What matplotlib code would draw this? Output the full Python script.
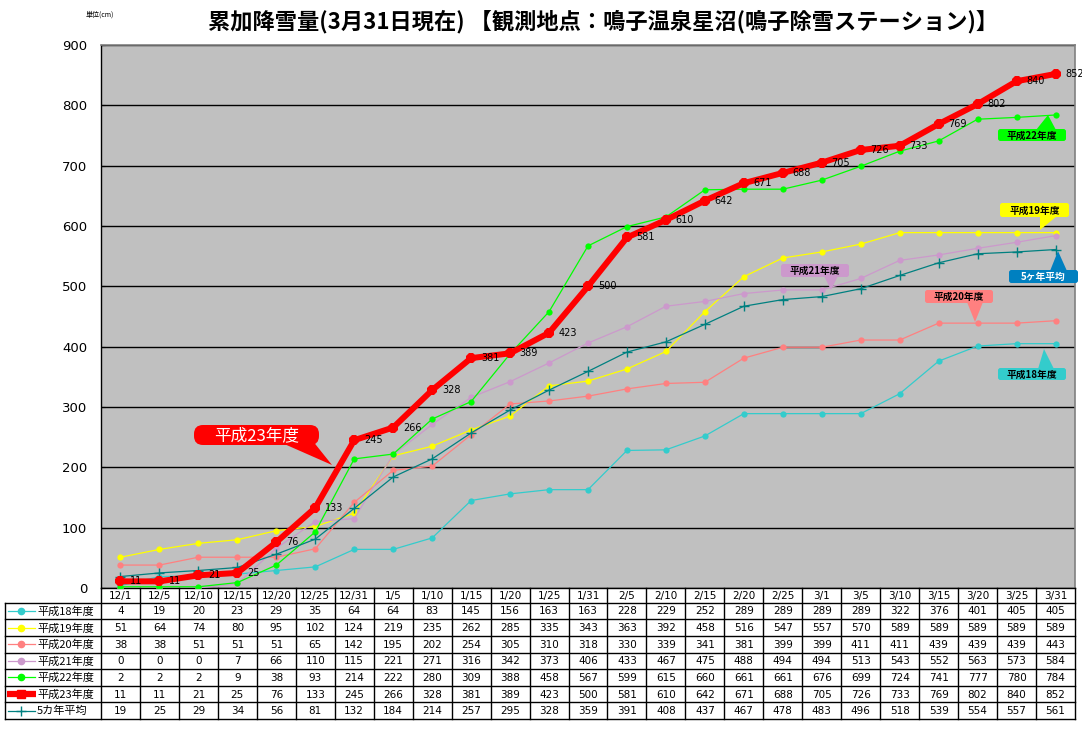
import matplotlib
matplotlib.use("Agg")
import matplotlib.pyplot as plt
from matplotlib.patches import FancyBboxPatch, Polygon

# ---------------- data ----------------
categories = ['12/1', '12/5', '12/10', '12/15', '12/20', '12/25', '12/31', '1/5', '1/10',
              '1/15', '1/20', '1/25', '1/31', '2/5', '2/10', '2/15', '2/20', '2/25', '3/1',
              '3/5', '3/10', '3/15', '3/20', '3/25', '3/31']
h18 = [4, 19, 20, 23, 29, 35, 64, 64, 83, 145, 156, 163, 163, 228, 229, 252, 289, 289, 289,
       289, 322, 376, 401, 405, 405]
h19 = [51, 64, 74, 80, 95, 102, 124, 219, 235, 262, 285, 335, 343, 363, 392, 458, 516, 547,
       557, 570, 589, 589, 589, 589, 589]
h20 = [38, 38, 51, 51, 51, 65, 142, 195, 202, 254, 305, 310, 318, 330, 339, 341, 381, 399,
       399, 411, 411, 439, 439, 439, 443]
h21 = [0, 0, 0, 7, 66, 110, 115, 221, 271, 316, 342, 373, 406, 433, 467, 475, 488, 494, 494,
       513, 543, 552, 563, 573, 584]
h22 = [2, 2, 2, 9, 38, 93, 214, 222, 280, 309, 388, 458, 567, 599, 615, 660, 661, 661, 676,
       699, 724, 741, 777, 780, 784]
h23 = [11, 11, 21, 25, 76, 133, 245, 266, 328, 381, 389, 423, 500, 581, 610, 642, 671, 688,
       705, 726, 733, 769, 802, 840, 852]
avg5 = [19, 25, 29, 34, 56, 81, 132, 184, 214, 257, 295, 328, 359, 391, 408, 437, 467, 478,
        483, 496, 518, 539, 554, 557, 561]
series_names = ['平成18年度', '平成19年度', '平成20年度', '平成21年度', '平成22年度',
                '平成23年度', '5カ年平均']
y_ticks = [0, 100, 200, 300, 400, 500, 600, 700, 800, 900]

# ---------------- style ----------------
CJK = ['Noto Sans CJK JP', 'DejaVu Sans']
W, H = 1082, 746
fig = plt.figure(figsize=(W / 100, H / 100), dpi=100)
fig.patch.set_facecolor('white')

L, R, T, B = 101, 1075, 45, 588
ax = fig.add_axes([L / W, 1 - B / H, (R - L) / W, (B - T) / H])
ax.set_facecolor('#C0C0C0')

colors = ['#33CCCC', '#FFFF00', '#FF8080', '#CC99CC', '#00FF00', '#FF0000', '#008080']
data = [h18, h19, h20, h21, h22, h23, avg5]
x = list(range(len(categories)))

styles = {
    0: dict(lw=0.9, marker='o', ms=4.5),
    1: dict(lw=0.9, marker='o', ms=4.5),
    2: dict(lw=0.9, marker='o', ms=4.5),
    3: dict(lw=0.9, marker='o', ms=4.5),
    4: dict(lw=0.9, marker='o', ms=4.5),
    5: dict(lw=4.3, marker='8', ms=8),
    6: dict(lw=0.9, marker='+', ms=7, mew=1.0),
}
order = [0, 1, 2, 3, 4, 6, 5]
for z, i in enumerate(order):
    st = styles[i]
    ax.plot(x, data[i], color=colors[i], lw=st['lw'], marker=st['marker'],
            ms=st['ms'], mew=st.get('mew', 0), mec=colors[i], mfc=colors[i],
            zorder=3 + z, solid_joinstyle='miter')

for xi, v in zip(x, h23):
    ax.annotate(str(v), (xi, v), xytext=(7, 0), textcoords='offset points',
                ha='left', va='center', fontsize=7, color='black', zorder=20)

ax.set_xlim(-0.5, len(categories) - 0.5)
ax.set_ylim(0, 900)
ax.set_yticks(y_ticks)
ax.set_yticklabels([str(t) for t in y_ticks], fontsize=9.5, color='black')
ax.tick_params(axis='y', direction='in', length=3, pad=10, width=0.8)
ax.set_xticks([])
ax.yaxis.grid(True, color='black', lw=1.0)
ax.set_axisbelow(True)
for s in ['left', 'bottom']:
    ax.spines[s].set_color('black')
    ax.spines[s].set_linewidth(1.0)
for s in ['top', 'right']:
    ax.spines[s].set_color('#808080')
    ax.spines[s].set_linewidth(1.2)

# ---------------- overlay (pixel coords) ----------------
ov = fig.add_axes([0, 0, 1, 1], zorder=10)
ov.set_xlim(0, W)
ov.set_ylim(H, 0)
ov.axis('off')
ov.patch.set_alpha(0)

# title & unit
ov.text(603, 22, '累加降雪量(3月31日現在) 【観測地点：鳴子温泉星沼(鳴子除雪ステーション)】',
        ha='center', va='center', fontsize=16, fontweight='bold', family=CJK)
ov.text(100, 15, '単位(cm)', ha='center', va='center', fontsize=5, family=CJK)

# table
col_w = (R - L) / len(categories)
hdr_top, hdr_bot = B, 602.7
row_h = 16.6
n_rows = len(series_names)
tab_bot = hdr_bot + n_rows * row_h
lk = dict(color='black', lw=1.0)
ov.plot([L, L], [hdr_top, tab_bot], **lk)
for j in range(1, len(categories) + 1):
    xx = L + j * col_w
    ov.plot([xx, xx], [hdr_top, tab_bot], **lk)
ov.plot([5, 5], [hdr_bot, tab_bot], **lk)
for r in range(n_rows + 1):
    yy = hdr_bot + r * row_h
    ov.plot([5, R], [yy, yy], **lk)
for j, c in enumerate(categories):
    ov.text(L + (j + 0.5) * col_w, (hdr_top + hdr_bot) / 2 + 0.5, c, ha='center',
            va='center', fontsize=7.5)
for r in range(n_rows):
    yc = hdr_bot + (r + 0.5) * row_h
    st = styles[r]
    if r == 5:
        ov.plot([7, 36], [yc, yc], color=colors[r], lw=4.5, solid_capstyle='butt')
        ov.plot([21], [yc], marker='s', ms=6, color=colors[r])
    else:
        ov.plot([8, 35], [yc, yc], color=colors[r], lw=0.9)
        ov.plot([21], [yc], marker=st['marker'], ms=st['ms'] if r != 6 else 7,
                color=colors[r], mew=1.0)
    ov.text(37, yc + 0.5, series_names[r], ha='left', va='center', fontsize=8, family=CJK)
    for j, v in enumerate(data[r]):
        ov.text(L + (j + 0.5) * col_w, yc + 0.5, str(v), ha='center', va='center',
                fontsize=7.5)

# callouts
def callout(x0, y0, x1, y1, tri, fc, text, tc='black', fs=7, rad=2.5, fw='bold'):
    ov.add_patch(FancyBboxPatch((x0, y0), x1 - x0, y1 - y0,
                                boxstyle=f'round,pad=0,rounding_size={rad}',
                                fc=fc, ec='none', zorder=5))
    ov.add_patch(Polygon(tri, closed=True, fc=fc, ec='none', zorder=5))
    ov.text((x0 + x1) / 2, (y0 + y1) / 2 + 0.5, text, ha='center', va='center',
            fontsize=fs, color=tc, family=CJK, fontweight=fw, zorder=6)

callout(998, 129, 1066, 141, [(1036, 130), (1056, 130), (1048, 115)], '#00FF00', '平成22年度')
callout(1000, 203, 1069, 217, [(1040, 216), (1057, 216), (1040, 230)], '#FFFF00', '平成19年度')
callout(781, 264, 849, 277, [(824, 276), (838, 276), (831, 290)], '#CC99CC', '平成21年度')
callout(1009, 270, 1078, 283, [(1050, 271), (1067, 271), (1058, 251)], '#0080C0', '5ヶ年平均',
        tc='white')
callout(925, 290, 993, 303, [(967, 302), (983, 302), (975, 322)], '#FF8080', '平成20年度')
callout(998, 368, 1066, 380, [(1038, 369), (1054, 369), (1044, 349)], '#33CCCC', '平成18年度')
callout(194, 425, 319, 445, [(282, 443), (312, 440), (332, 465)], '#FF0000', '平成23年度',
        tc='white', fs=12, rad=9, fw='normal')

fig.savefig('out.png', dpi=100, facecolor='white')
